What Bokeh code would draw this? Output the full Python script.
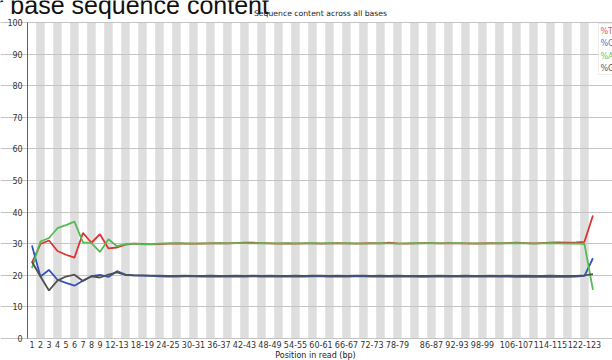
from bokeh.plotting import figure
from bokeh.models import FixedTicker, Range1d, Label, BoxAnnotation
from bokeh.embed import file_html
from bokeh.resources import INLINE

# ---- data ----
categories = [str(i) for i in range(1, 10)] + [f"{a}-{a+1}" for a in range(10, 126, 2)]
shown_labels = ["1", "2", "3", "4", "5", "6", "7", "8", "9", "12-13", "18-19", "24-25",
                "30-31", "36-37", "42-43", "48-49", "54-55", "60-61", "66-67", "72-73",
                "78-79", "86-87", "92-93", "98-99", "106-107", "114-115", "122-123"]
y_ticks = [0, 10, 20, 30, 40, 50, 60, 70, 80, 90, 100]
series_names = ["%T", "%C", "%A", "%G"]

pct_T = [24.0, 29.9, 31.0, 27.7, 26.5, 25.6, 33.4, 30.3, 33.0, 28.5, 28.8, 29.7, 30.0,
         29.9, 29.8, 29.9, 30.0, 30.1, 30.0, 30.0, 30.0, 30.1, 30.2, 30.1, 30.2, 30.3,
         30.3, 30.2, 30.1, 30.0, 30.1, 30.0, 30.1, 30.1, 30.0, 30.1, 30.2, 30.1, 30.0,
         30.1, 30.2, 30.1, 30.3, 30.1, 30.0, 30.1, 30.2, 30.2, 30.1, 30.2, 30.1, 30.1,
         30.0, 30.1, 30.2, 30.1, 30.2, 30.3, 30.2, 30.1, 30.2, 30.3, 30.4, 30.3, 30.4,
         30.6, 38.9]
pct_C = [29.4, 19.6, 21.7, 18.6, 17.6, 16.7, 18.3, 19.7, 20.1, 19.5, 21.3, 20.2, 20.0,
         19.9, 19.8, 19.7, 19.6, 19.6, 19.7, 19.7, 19.6, 19.6, 19.6, 19.7, 19.6, 19.6,
         19.7, 19.6, 19.7, 19.6, 19.6, 19.7, 19.6, 19.7, 19.7, 19.6, 19.7, 19.6, 19.7,
         19.7, 19.6, 19.7, 19.6, 19.7, 19.6, 19.6, 19.5, 19.6, 19.6, 19.7, 19.6, 19.6,
         19.7, 19.6, 19.6, 19.7, 19.6, 19.5, 19.6, 19.5, 19.6, 19.5, 19.6, 19.5, 19.6,
         19.8, 25.4]
pct_A = [22.3, 30.7, 31.8, 34.9, 35.9, 37.0, 30.4, 30.2, 27.4, 31.4, 29.2, 29.9, 30.0,
         29.8, 29.9, 30.0, 30.1, 30.2, 30.1, 30.0, 30.1, 30.1, 30.2, 30.1, 30.2, 30.2,
         30.1, 30.2, 30.1, 30.1, 30.2, 30.1, 30.1, 30.2, 30.1, 30.2, 30.1, 30.2, 30.1,
         30.0, 30.1, 30.2, 30.1, 30.0, 30.1, 30.2, 30.1, 30.2, 30.1, 30.2, 30.2, 30.1,
         30.1, 30.0, 30.1, 30.2, 30.1, 30.2, 30.1, 30.0, 30.1, 30.2, 30.1, 30.0, 30.1,
         29.9, 15.4]
pct_G = [24.3, 19.6, 15.2, 18.3, 19.6, 20.2, 18.2, 19.7, 19.3, 20.2, 20.9, 20.1, 20.0,
         20.0, 19.9, 19.9, 19.8, 19.8, 19.9, 19.8, 19.8, 19.9, 19.8, 19.8, 19.9, 19.8,
         19.9, 19.8, 19.9, 19.8, 19.8, 19.9, 19.8, 19.9, 19.9, 19.8, 19.9, 19.8, 19.9,
         19.9, 19.8, 19.9, 19.8, 19.9, 19.8, 19.8, 19.8, 19.8, 19.9, 19.8, 19.8, 19.9,
         19.8, 19.8, 19.9, 19.8, 19.9, 19.8, 19.9, 19.8, 19.8, 19.9, 19.8, 19.8, 19.8,
         20.0, 20.4]

colors = ["#dd3333", "#3355bb", "#55bb55", "#505050"]
legend_colors = ["#e05a5a", "#5a74c8", "#6cc46c", "#5a5a5a"]

# ---- geometry (frame = whole canvas; axes drawn at fixed locations) ----
W, H = 612, 360
n = len(categories)
xs = list(range(n))
px_x = 8.5          # px per category
px_y = 3.16         # px per percent
axis_px_x = 27.2    # canvas x of the y axis (left edge of first category)
axis_px_y = 338.0   # canvas y of 0 %
x0 = -0.5 - axis_px_x / px_x
x1 = x0 + W / px_x
y0 = -(H - axis_px_y) / px_y
y1 = axis_px_y / px_y

p = figure(width=W, height=H, output_backend="svg", toolbar_location=None,
           x_range=Range1d(x0, x1), y_range=Range1d(y0, y1),
           min_border=0, min_border_left=0, min_border_right=0,
           min_border_top=0, min_border_bottom=0,
           background_fill_color="white", border_fill_color="white")
p.outline_line_color = None

# alternating stripes
stripe_x = [i for i in xs if i % 2 == 1]
st = p.vbar(x=stripe_x, width=1.0, top=100, bottom=0, fill_color="#dedede", line_color=None)
st.level = "image"

# grid
p.xgrid.visible = False
p.ygrid.ticker = FixedTicker(ticks=y_ticks)
p.ygrid.bounds = (-0.5, x1)
p.ygrid.grid_line_color = "#c4c4c4"
p.ygrid.grid_line_width = 1

# lines
for vals, c in zip([pct_T, pct_C, pct_A, pct_G], colors):
    p.line(xs, vals, line_color=c, line_width=1.8)

# axes
p.yaxis.fixed_location = -0.5
p.yaxis.bounds = (0, 100)
p.yaxis.ticker = FixedTicker(ticks=y_ticks)
p.yaxis.axis_line_color = "#606060"
p.yaxis.major_tick_line_color = None
p.yaxis.minor_tick_line_color = None
p.yaxis.major_tick_out = 0
p.yaxis.major_tick_in = 0
p.yaxis.major_label_standoff = 5
p.yaxis.major_label_text_font = "DejaVu Sans"
p.yaxis.major_label_text_font_size = "8px"
p.yaxis.major_label_text_color = "#333333"

shown_idx = [categories.index(l) for l in shown_labels]
p.xaxis.fixed_location = 0
p.xaxis.ticker = FixedTicker(ticks=shown_idx)
p.xaxis.major_label_overrides = {i: categories[i] for i in shown_idx}
p.xaxis.axis_line_color = None
p.xaxis.major_tick_line_color = None
p.xaxis.minor_tick_line_color = None
p.xaxis.major_tick_out = 0
p.xaxis.major_tick_in = 0
p.xaxis.major_label_standoff = 2
p.xaxis.major_label_text_font = "DejaVu Sans"
p.xaxis.major_label_text_font_size = "8px"
p.xaxis.major_label_text_color = "#333333"


def lab(text, cx, cy, size, font="DejaVu Sans", color="#222222", align="left", baseline="middle"):
    # cx, cy: canvas pixels from top-left; screen units here are measured from the bottom
    p.add_layout(Label(x=cx, y=H - cy, x_units="screen", y_units="screen", text=text,
                       text_font=font, text_font_size=size, text_color=color,
                       text_align=align, text_baseline=baseline))


lab("Per base sequence content", -36, 4, "25px", font="Liberation Sans", color="#111111",
    baseline="alphabetic")
lab("Sequence content across all bases", 320, 12.5, "7.7px", align="center")
lab("Position in read (bp)", 315, 355, "8px", align="center")

# legend box
p.add_layout(BoxAnnotation(left=598, right=640, top=H - 23, bottom=H - 74,
                           left_units="screen", right_units="screen",
                           top_units="screen", bottom_units="screen",
                           fill_color="white", fill_alpha=1.0,
                           line_color="#c0c0c0", line_width=1))
for k, (name, c) in enumerate(zip(series_names, legend_colors)):
    lab(name, 600, 30.5 + 12.5 * k, "8px", color=c)

open("out.html", "w").write(file_html(p, INLINE))
